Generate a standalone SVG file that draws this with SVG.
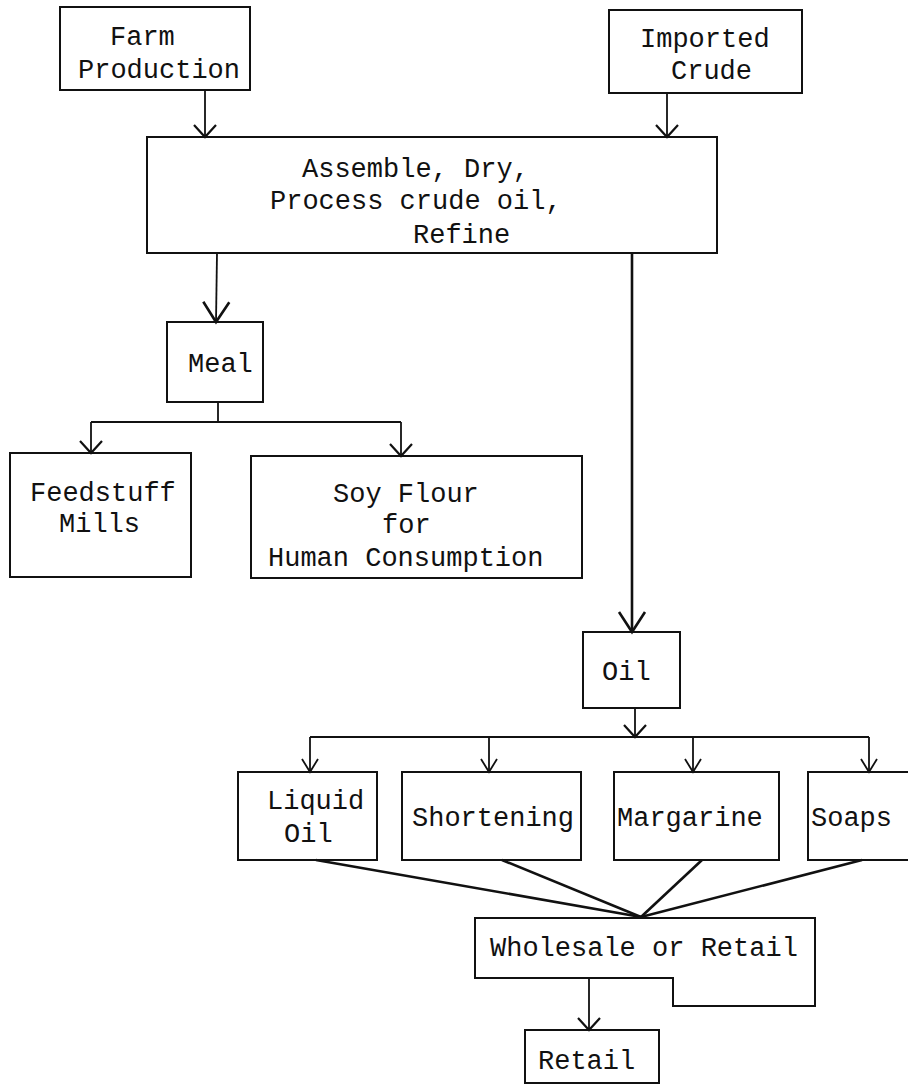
<svg xmlns="http://www.w3.org/2000/svg" width="908" height="1084" viewBox="0 0 908 1084">
<style>
.box{fill:none;stroke:#111;stroke-width:2}
.lbl{font-family:"Liberation Mono","Courier New",monospace;font-size:27px;fill:#111}
.c{fill:none;stroke:#111;stroke-width:1.8}
.ct{fill:none;stroke:#111;stroke-width:2.6}
</style>
<defs>
<marker id="ah" markerUnits="userSpaceOnUse" viewBox="-20 -15 24 30" markerWidth="24" markerHeight="30" refX="0" refY="0" orient="auto" overflow="visible">
<path d="M-12,-11 L0,0 L-12,11" fill="none" stroke="#111" stroke-width="2.2"/>
</marker>
<marker id="ahs" markerUnits="userSpaceOnUse" viewBox="-20 -15 24 30" markerWidth="24" markerHeight="30" refX="0" refY="0" orient="auto" overflow="visible">
<path d="M-13,-8 L0,0 L-13,8" fill="none" stroke="#111" stroke-width="1.8"/>
</marker>
<marker id="ahb" markerUnits="userSpaceOnUse" viewBox="-24 -16 28 32" markerWidth="28" markerHeight="32" refX="0" refY="0" orient="auto" overflow="visible">
<path d="M-20,-13 L0,0 L-20,13" fill="none" stroke="#111" stroke-width="2.6"/>
</marker>
</defs>
<rect width="908" height="1084" fill="#fff"/>
<g id="connectors">
<line class="c" x1="205" y1="90" x2="205" y2="137" marker-end="url(#ah)"/>
<line class="c" x1="667" y1="93" x2="667" y2="137" marker-end="url(#ah)"/>
<line class="c" x1="217" y1="253" x2="216" y2="322" marker-end="url(#ahb)"/>
<polyline class="c" points="218,402 218,422"/>
<line class="c" x1="91" y1="422" x2="401" y2="422"/>
<line class="c" x1="91" y1="422" x2="91" y2="453" marker-end="url(#ah)"/>
<line class="c" x1="401" y1="422" x2="401" y2="456" marker-end="url(#ah)"/>
<line class="ct" x1="632" y1="253" x2="632" y2="632" marker-end="url(#ahb)"/>
<line class="c" x1="635" y1="708" x2="635" y2="737" marker-end="url(#ah)"/>
<line class="c" x1="310" y1="737" x2="869" y2="737"/>
<line class="c" x1="310" y1="737" x2="310" y2="772" marker-end="url(#ahs)"/>
<line class="c" x1="489" y1="737" x2="489" y2="772" marker-end="url(#ahs)"/>
<line class="c" x1="693" y1="737" x2="693" y2="772" marker-end="url(#ahs)"/>
<line class="c" x1="869" y1="737" x2="869" y2="772" marker-end="url(#ahs)"/>
<line class="ct" x1="316" y1="860" x2="641" y2="917"/>
<line class="ct" x1="502" y1="860" x2="641" y2="917"/>
<line class="ct" x1="702" y1="860" x2="641" y2="917"/>
<line class="ct" x1="862" y1="860" x2="641" y2="917"/>
<line class="c" x1="589" y1="978" x2="589" y2="1030" marker-end="url(#ah)"/>
</g>
<g id="farm">
<rect class="box" x="60" y="7" width="190" height="83"/>
<text class="lbl" x="110" y="45">Farm</text>
<text class="lbl" x="78" y="78">Production</text>
</g>
<g id="imported">
<rect class="box" x="609" y="10" width="193" height="83"/>
<text class="lbl" x="640" y="47">Imported</text>
<text class="lbl" x="671" y="79">Crude</text>
</g>
<g id="process">
<rect class="box" x="147" y="137" width="570" height="116"/>
<text class="lbl" x="302" y="177">Assemble, Dry,</text>
<text class="lbl" x="270" y="209">Process crude oil,</text>
<text class="lbl" x="413" y="243">Refine</text>
</g>
<g id="meal">
<rect class="box" x="167" y="322" width="96" height="80"/>
<text class="lbl" x="188" y="372">Meal</text>
</g>
<g id="feedstuff">
<rect class="box" x="10" y="453" width="181" height="124"/>
<text class="lbl" x="30" y="501">Feedstuff</text>
<text class="lbl" x="59" y="532">Mills</text>
</g>
<g id="soyflour">
<rect class="box" x="251" y="456" width="331" height="122"/>
<text class="lbl" x="333" y="502">Soy Flour</text>
<text class="lbl" x="382" y="533">for</text>
<text class="lbl" x="268" y="566">Human Consumption</text>
</g>
<g id="oil">
<rect class="box" x="583" y="632" width="97" height="76"/>
<text class="lbl" x="602" y="680">Oil</text>
</g>
<g id="liquidoil">
<rect class="box" x="238" y="772" width="139" height="88"/>
<text class="lbl" x="267" y="809">Liquid</text>
<text class="lbl" x="284" y="842">Oil</text>
</g>
<g id="shortening">
<rect class="box" x="402" y="772" width="179" height="88"/>
<text class="lbl" x="412" y="826">Shortening</text>
</g>
<g id="margarine">
<rect class="box" x="614" y="772" width="165" height="88"/>
<text class="lbl" x="617" y="826">Margarine</text>
</g>
<g id="soaps">
<rect class="box" x="808" y="772" width="110" height="88"/>
<text class="lbl" x="811" y="826">Soaps</text>
</g>
<g id="wholesale">
<path class="box" d="M475,918 L815,918 L815,1006 L673,1006 L673,978 L475,978 Z"/>
<text class="lbl" x="490" y="956">Wholesale or Retail</text>
</g>
<g id="retail">
<rect class="box" x="525" y="1030" width="134" height="53"/>
<text class="lbl" x="538" y="1069">Retail</text>
</g>
</svg>
